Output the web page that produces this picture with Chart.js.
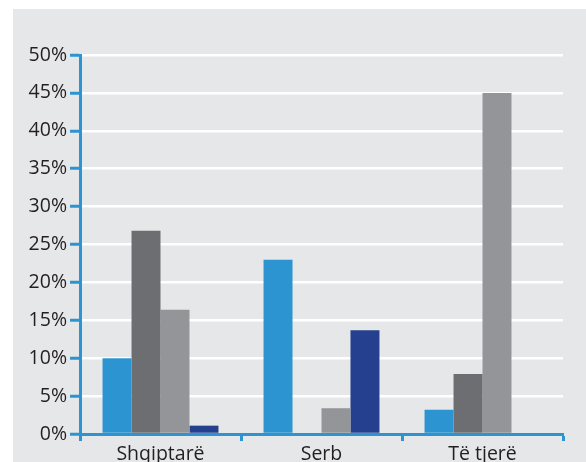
<!DOCTYPE html>
<html>
<head>
<meta charset="utf-8">
<script src="https://cdn.jsdelivr.net/npm/chart.js@4"></script>
<style>
    html, body { margin: 0; padding: 0; background: #ffffff; }
    #panel {
        position: absolute;
        left: 13px;
        top: 9px;
        width: 573px;
        height: 453px;
        background: #e6e7e8;
    }
</style>
</head>
<body>
<div id="panel"><canvas id="chart" width="573" height="453"></canvas></div>
<script>
// Categories and series values (percent)
const categories = ['Shqiptarë', 'Serb', 'Të tjerë'];
const series1 = [10.0, 23.0, 3.2];
const series2 = [26.8, 0, 7.9];
const series3 = [16.4, 3.4, 45.0];
const series4 = [1.1, 13.7, 0];
const yTicks = [0, 5, 10, 15, 20, 25, 30, 35, 40, 45, 50];

const axisBlue = '#2c94d1';
const textColor = '#231f20';
const font = { family: 'Open Sans', size: 19.5 };

Chart.defaults.font.family = font.family;

const chart = new Chart(document.getElementById('chart'), {
    type: 'bar',
    data: {
        labels: categories,
        datasets: [
            { label: 'Seria 1', data: series1, backgroundColor: '#2c94d1' },
            { label: 'Seria 2', data: series2, backgroundColor: '#6d6e71' },
            { label: 'Seria 3', data: series3, backgroundColor: '#949599' },
            { label: 'Seria 4', data: series4, backgroundColor: '#24408e' }
        ]
    },
    options: {
        responsive: false,
        animation: false,
        layout: { padding: { top: 46, right: 23, left: 0, bottom: 0 } },
        datasets: {
            bar: { categoryPercentage: 0.72, barPercentage: 1.0, borderWidth: 0 }
        },
        plugins: {
            legend: { display: false },
            tooltip: { enabled: false }
        },
        scales: {
            x: {
                afterFit: (scale) => { scale.height = 28; },
                grid: {
                    offset: true,
                    drawOnChartArea: false,
                    tickLength: 7,
                    tickColor: axisBlue,
                    tickWidth: 3
                },
                border: { color: axisBlue, width: 3, z: 1 },
                ticks: { color: textColor, font: font, padding: 2, maxRotation: 0 }
            },
            y: {
                min: 0,
                max: 50,
                afterFit: (scale) => { scale.width = 67; },
                afterBuildTicks: (scale) => {
                    scale.ticks = yTicks.map(v => ({ value: v }));
                },
                grid: {
                    color: '#ffffff',
                    lineWidth: 2.5,
                    tickLength: 10,
                    tickColor: axisBlue,
                    tickWidth: 3
                },
                border: { color: axisBlue, width: 3, z: 1 },
                ticks: {
                    color: textColor,
                    font: font,
                    padding: 3,
                    callback: (v) => v + '%'
                }
            }
        }
    }
});
</script>
</body>
</html>
